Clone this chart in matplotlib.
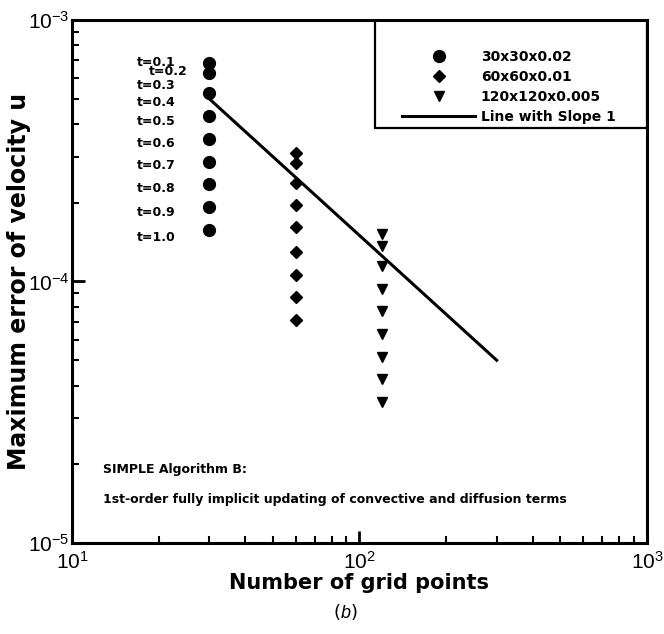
import matplotlib

matplotlib.use("Agg")
import matplotlib.pyplot as plt
from matplotlib.patches import Rectangle
from matplotlib.ticker import LogLocator, NullFormatter

plt.rcParams["font.family"] = ["DejaVu Sans"]
plt.rcParams["mathtext.fontset"] = "custom"
plt.rcParams["mathtext.rm"] = "Liberation Sans"
plt.rcParams["mathtext.it"] = "Liberation Sans:italic"

# grid sizes and max error of u at t = 0.1 ... 1.0
grid_30 = 30
grid_60 = 60
grid_120 = 120
err_30 = [6.87e-4, 6.25e-4, 5.25e-4, 4.30e-4, 3.52e-4, 2.87e-4, 2.36e-4, 1.93e-4, 1.57e-4]
err_60 = [3.11e-4, 2.85e-4, 2.39e-4, 1.96e-4, 1.61e-4, 1.30e-4, 1.06e-4, 8.75e-5, 7.13e-5]
err_120 = [1.52e-4, 1.37e-4, 1.15e-4, 9.36e-5, 7.71e-5, 6.30e-5, 5.14e-5, 4.24e-5, 3.46e-5]

# reference line with slope 1
slope_x = [30, 300]
slope_y = [5.0e-4, 5.0e-5]

series_labels = ["30x30x0.02", "60x60x0.01", "120x120x0.005", "Line with Slope 1"]
time_labels = ["t=0.1", "t=0.2", "t=0.3", "t=0.4", "t=0.5",
               "t=0.6", "t=0.7", "t=0.8", "t=0.9", "t=1.0"]
# label placement in axes fraction (x, y)
time_label_pos = [(0.113, 0.918), (0.134, 0.902), (0.113, 0.874), (0.113, 0.843),
                  (0.113, 0.805), (0.113, 0.763), (0.113, 0.721), (0.113, 0.677),
                  (0.113, 0.631), (0.113, 0.585)]

fig = plt.figure(figsize=(6.64, 6.34), dpi=100)
ax = fig.add_axes([0.1084, 0.1435, 0.8660, 0.8250])

ax.plot([grid_30] * len(err_30), err_30, "o", color="black", ms=8.5, label=series_labels[0])
ax.plot([grid_60] * len(err_60), err_60, "D", color="black", ms=6, label=series_labels[1])
ax.plot([grid_120] * len(err_120), err_120, "v", color="black", ms=7, label=series_labels[2])
ax.plot(slope_x, slope_y, "-", color="black", lw=2.2, label=series_labels[3])

ax.set_xscale("log")
ax.set_yscale("log")
ax.set_xlim(10, 1000)
ax.set_ylim(1e-5, 1e-3)

ax.xaxis.set_minor_locator(LogLocator(base=10, subs=range(2, 10)))
ax.yaxis.set_minor_locator(LogLocator(base=10, subs=range(2, 10)))
ax.xaxis.set_minor_formatter(NullFormatter())
ax.yaxis.set_minor_formatter(NullFormatter())
ax.tick_params(which="both", direction="in", top=False, right=False, width=1.5,
               labelsize=15, labelfontfamily="Liberation Sans")
ax.tick_params(which="major", length=9, width=2)
ax.tick_params(which="minor", length=5)
ax.tick_params(axis="x", which="major", pad=6)
ax.tick_params(axis="y", which="major", pad=2)
for spine in ax.spines.values():
    spine.set_linewidth(2.2)

ax.set_xlabel("Number of grid points", fontsize=15, fontweight="bold", labelpad=0)
ax.set_ylabel("Maximum error of velocity u", fontsize=17, fontweight="bold")
ax.yaxis.set_label_coords(-0.072, 0.5)

for text, (tx, ty) in zip(time_labels, time_label_pos):
    ax.text(tx, ty, text, transform=ax.transAxes, fontsize=9, fontweight="bold",
            ha="left", va="center")

ax.text(0.054, 0.141, "SIMPLE Algorithm B:", transform=ax.transAxes,
        fontsize=9, fontweight="bold", va="center")
ax.text(0.054, 0.083,
        "1st-order fully implicit updating of convective and diffusion terms",
        transform=ax.transAxes, fontsize=9, fontweight="bold", va="center")

# legend box drawn separately so it sits flush with the top and right spines
ax.add_patch(Rectangle((0.527, 0.7935), 0.473, 0.2065, transform=ax.transAxes,
                       fill=False, edgecolor="black", lw=1.6, zorder=5))
leg = ax.legend(loc="upper left", bbox_to_anchor=(0.565, 0.954), frameon=False,
                prop={"weight": "bold", "size": 10}, handlelength=5.25,
                handletextpad=0.4, labelspacing=0.45, borderaxespad=0)

fig.text(0.52, 0.035, r"($\mathit{b}$)", fontsize=13, ha="center", va="center")

fig.savefig("out.png", dpi=100)
